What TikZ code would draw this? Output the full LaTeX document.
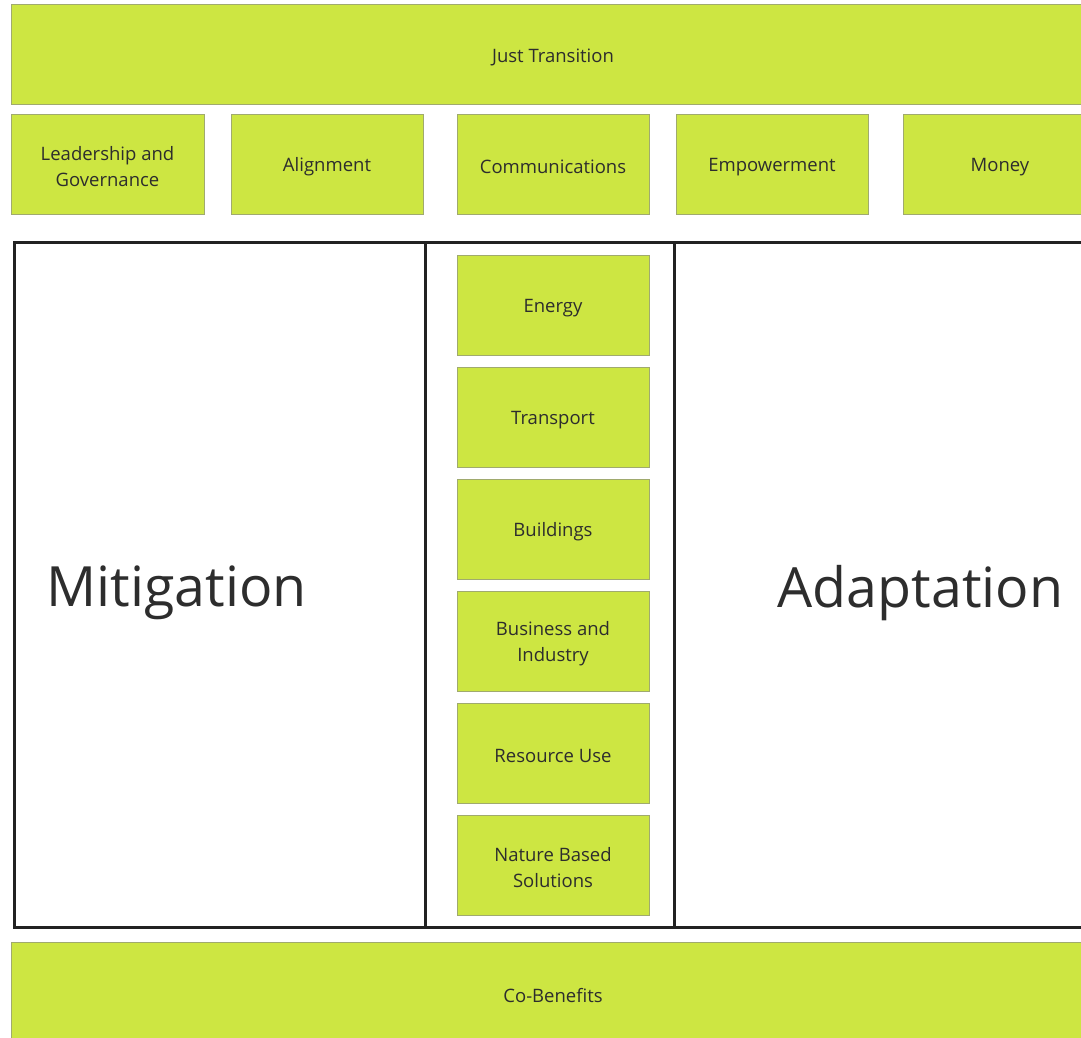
\documentclass[tikz,border=0pt]{standalone}
\usepackage{fontspec}
\setmainfont{Open Sans}
\definecolor{lime}{RGB}{205,230,66}
\definecolor{limeedge}{RGB}{160,170,110}
\definecolor{frame}{RGB}{34,34,34}
\definecolor{txt}{RGB}{45,45,45}
\begin{document}
\begin{tikzpicture}[x=1pt,y=-1pt,
  box/.style={draw=limeedge,fill=lime,line width=0.8pt},
  lbl/.style={text=txt,font=\fontsize{18.5}{26}\selectfont,align=center},
  big/.style={text=txt,font=\fontsize{55.5}{60}\selectfont},
  frameline/.style={draw=frame,line width=3pt}]
\useasboundingbox (0,0) rectangle (1081,1038);
\clip (0,0) rectangle (1081,1038);
% top banner
\draw[box] (11,4) rectangle (1090,104);
\node[lbl] (jt) at (553,57) {Just Transition};
% second row
\draw[box] (11,114) rectangle (204,214);
\node[lbl] (lg) at (107.5,167) {Leadership and\\Governance};
\draw[box] (231,114) rectangle (423,214);
\node[lbl] (al) at (327,167) {Alignment};
\draw[box] (457,114) rectangle (649,214);
\node[lbl] (co) at (553,167) {Communications};
\draw[box] (676,114) rectangle (868,214);
\node[lbl] (em) at (772,167) {Empowerment};
\draw[box] (903,114) rectangle (1099,214);
\node[lbl] (mo) at (1000,167) {Money};
% frame
\draw[frameline] (1090,242) -- (14,242) -- (14,927) -- (1090,927);
\draw[frameline] (425,242) -- (425,927);
\draw[frameline] (674,242) -- (674,927);
\node[big,anchor=west] (mit) at (43,593) {Mitigation};
\node[big,anchor=west] (ada) at (774,593) {Adaptation};
% middle column
\draw[box] (457,255) rectangle (649,355);
\node[lbl] (en) at (553,308) {Energy};
\draw[box] (457,367) rectangle (649,467);
\node[lbl] (tr) at (553,420) {Transport};
\draw[box] (457,479) rectangle (649,579);
\node[lbl] (bu) at (553,532) {Buildings};
\draw[box] (457,591) rectangle (649,691);
\node[lbl] (bi) at (553,644) {Business and\\Industry};
\draw[box] (457,703) rectangle (649,803);
\node[lbl] (ru) at (553,756) {Resource Use};
\draw[box] (457,815) rectangle (649,915);
\node[lbl] (nb) at (553,868) {Nature Based\\Solutions};
% bottom banner
\draw[box] (11,942) rectangle (1090,1050);
\node[lbl] (cb) at (553,996) {Co-Benefits};
\end{tikzpicture}
\end{document}
